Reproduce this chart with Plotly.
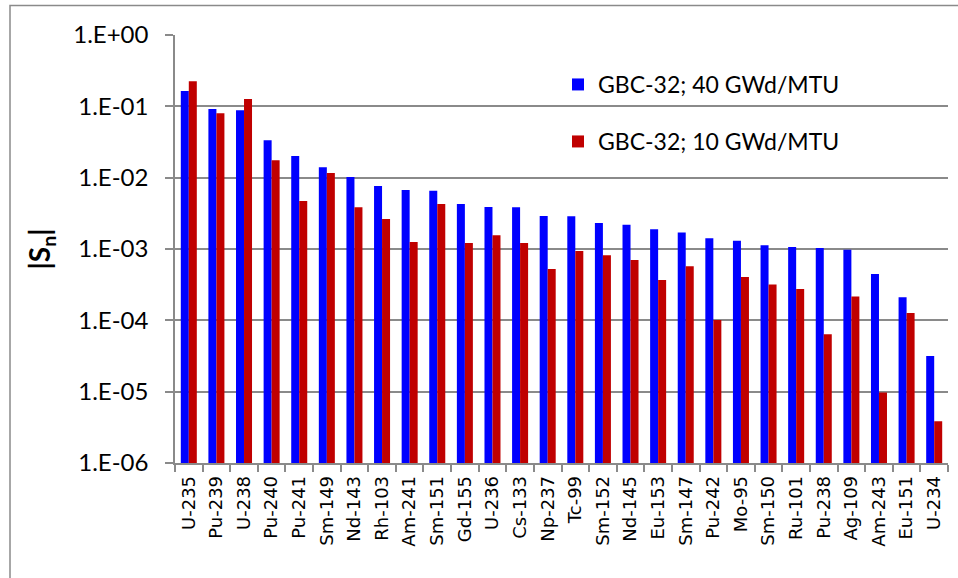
import plotly.graph_objects as go

nuclides = ["U-235", "Pu-239", "U-238", "Pu-240", "Pu-241", "Sm-149", "Nd-143", "Rh-103",
            "Am-241", "Sm-151", "Gd-155", "U-236", "Cs-133", "Np-237", "Tc-99", "Sm-152",
            "Nd-145", "Eu-153", "Sm-147", "Pu-242", "Mo-95", "Sm-150", "Ru-101", "Pu-238",
            "Ag-109", "Am-243", "Eu-151", "U-234"]

sn_40 = [0.164, 0.092, 0.088, 0.0334, 0.0201, 0.0140, 0.0102, 0.00764,
         0.00671, 0.00657, 0.00428, 0.00388, 0.00384, 0.00290, 0.00287, 0.00231,
         0.00219, 0.00189, 0.00171, 0.00141, 0.00131, 0.001125, 0.001066, 0.00103,
         0.000978, 0.000446, 0.000210, 0.0000316]

sn_10 = [0.224, 0.080, 0.127, 0.0175, 0.00471, 0.0116, 0.00384, 0.00263,
         0.00125, 0.00428, 0.00121, 0.00156, 0.00121, 0.000524, 0.000937, 0.000815,
         0.000701, 0.000367, 0.000571, 0.000101, 0.000405, 0.000319, 0.000275, 0.0000637,
         0.000215, 0.0000097, 0.000127, 0.00000384]

series_names = ["GBC-32; 40 GWd/MTU", "GBC-32; 10 GWd/MTU"]
y_tickvals = [1, 1e-1, 1e-2, 1e-3, 1e-4, 1e-5, 1e-6]
y_ticktext = ["1.E+00", "1.E-01", "1.E-02", "1.E-03", "1.E-04", "1.E-05", "1.E-06"]

W, H = 958, 578
L, R, T, B = 175, 10, 35, 115
pw, ph = W - L - R, H - T - B

def px_x(x):
    return (x - L) / pw

def px_y(y):
    return (H - B - y) / ph

fig = go.Figure()
fig.add_trace(go.Bar(x=nuclides, y=sn_40, name=series_names[0],
                     marker=dict(color="#0000FF", line=dict(width=0)), legend="legend"))
fig.add_trace(go.Bar(x=nuclides, y=sn_10, name=series_names[1],
                     marker=dict(color="#C00000", line=dict(width=0)), legend="legend2"))

grid = "#8a8a8a"
lab_font = dict(family="Lato, Carlito, sans-serif", size=23, color="black")
tick_font = dict(family="Lato, Carlito, sans-serif", size=24, color="black")

fig.update_layout(
    width=W, height=H,
    margin=dict(l=L, r=R, t=T, b=B, autoexpand=False),
    paper_bgcolor="white", plot_bgcolor="white",
    barmode="group", bargap=0.42, bargroupgap=0,
    showlegend=True,
    legend=dict(x=px_x(558), y=px_y(84.5), xanchor="left", yanchor="middle",
                font=lab_font, bgcolor="rgba(0,0,0,0)"),
    legend2=dict(x=px_x(558), y=px_y(141.5), xanchor="left", yanchor="middle",
                 font=lab_font, bgcolor="rgba(0,0,0,0)"),
    xaxis=dict(type="category", tickangle=-90, ticks="outside", tickson="boundaries",
               ticklen=7, tickcolor=grid, tickwidth=1.5,
               showline=True, linecolor=grid, linewidth=1.5, showgrid=False,
               tickfont=dict(family="DejaVu Sans", size=18, color="black"),
               ticklabelstandoff=4),
    yaxis=dict(type="log", range=[-6, 0], tickvals=y_tickvals, ticktext=y_ticktext,
               ticks="outside", ticklen=8, tickcolor=grid, tickwidth=1.5,
               showline=True, linecolor=grid, linewidth=1.5,
               showgrid=True, gridcolor=grid, gridwidth=1.5,
               tickfont=tick_font, ticklabelstandoff=12,
               title=dict(text="<b>|S<sub>n</sub>|</b>", standoff=14,
                          font=dict(family="Lato, Carlito, sans-serif", size=28, color="black"))),
    shapes=[dict(type="rect", xref="paper", yref="paper",
                 x0=px_x(10), x1=px_x(962), y0=px_y(590), y1=px_y(5.5),
                 line=dict(color="#8a8a8a", width=1.5), layer="below")],
)

fig.write_html("out.html", config={"displayModeBar": False},
               post_script="document.body.style.margin='0';document.body.style.overflow='hidden';")
